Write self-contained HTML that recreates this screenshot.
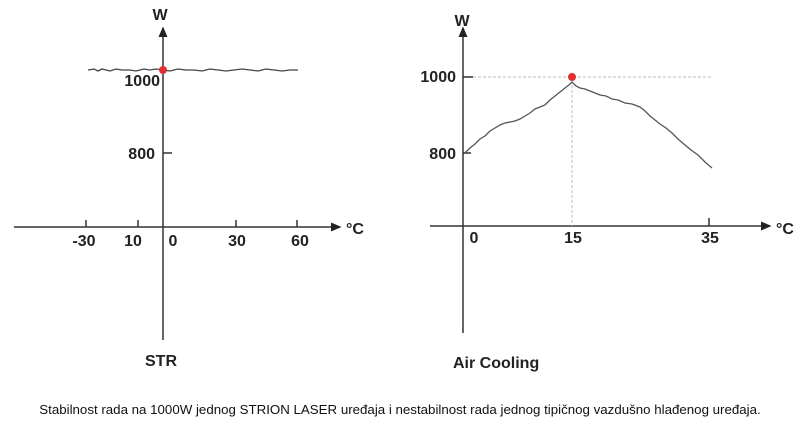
<!DOCTYPE html>
<html><head><style>
body{margin:0;width:800px;height:425px;background:#fff;overflow:hidden;font-family:"Liberation Sans",sans-serif}
</style></head><body>
<svg width="800" height="425" xmlns="http://www.w3.org/2000/svg" font-family="Liberation Sans, sans-serif">
<defs><marker id="a" markerWidth="8" markerHeight="8" refX="6" refY="3" orient="auto"><path d="M0,0 L7,3 L0,6z" fill="#222"/></marker></defs>
<g stroke="#333" stroke-width="1.5" fill="none">
<line x1="163" y1="340" x2="163" y2="28" marker-end="url(#a)"/>
<line x1="14" y1="227" x2="340" y2="227" marker-end="url(#a)"/>
<line x1="86" y1="220" x2="86" y2="227"/><line x1="138" y1="220" x2="138" y2="227"/>
<line x1="236" y1="220" x2="236" y2="227"/><line x1="297" y1="220" x2="297" y2="227"/>
<line x1="163" y1="153" x2="172" y2="153"/>
<line x1="463" y1="333" x2="463" y2="28" marker-end="url(#a)"/>
<line x1="430" y1="226" x2="770" y2="226" marker-end="url(#a)"/>
<line x1="709" y1="218" x2="709" y2="226"/>
<line x1="463" y1="77" x2="473" y2="77"/><line x1="463" y1="153" x2="471" y2="153"/>
</g>
<g stroke="#bbb" stroke-width="1" stroke-dasharray="3,2">
<line x1="473" y1="77" x2="712" y2="77"/><line x1="572" y1="80" x2="572" y2="226"/>
</g>
<polyline fill="none" stroke="#444" stroke-width="1.3" points="88,70 94,69 98,71 102,69 106,70 110,71 116,69 122,70 130,70 136,71 144,69 150,70 156,69 163,70 170,71 178,69 186,70 194,70 202,71 210,69 218,70 226,71 234,70 242,69 250,70 258,71 266,69 274,70 282,71 290,70 298,70"/>
<polyline fill="none" stroke="#555" stroke-width="1.3" points="465,153 470,148 475,144 480,139 485,136 490,131 495,128 500,125 505,123 510,122 515,121 520,119 525,116 530,113 535,109 540,107 545,105 550,100 555,96 560,92 565,88 570,84 572,82 576,86 580,88 585,89 590,91 595,93 600,95 606,96 612,99 618,100 625,103 632,104 640,107 645,111 650,116 655,120 660,124 666,128 672,133 678,139 685,145 691,150 698,155 705,162 712,168"/>
<circle cx="163" cy="70" r="4" fill="#e03030"/>
<circle cx="572" cy="77" r="4" fill="#e03030"/>
<g font-size="16" font-weight="bold" fill="#222">
<text x="160" y="20" text-anchor="middle">W</text>
<text x="462" y="26" text-anchor="middle">W</text>
<text x="160" y="86" text-anchor="end">1000</text>
<text x="155" y="159" text-anchor="end">800</text>
<text x="456" y="82" text-anchor="end">1000</text>
<text x="456" y="159" text-anchor="end">800</text>
<text x="84" y="246" text-anchor="middle">-30</text>
<text x="133" y="246" text-anchor="middle">10</text>
<text x="173" y="246" text-anchor="middle">0</text>
<text x="237" y="246" text-anchor="middle">30</text>
<text x="300" y="246" text-anchor="middle">60</text>
<text x="474" y="243" text-anchor="middle">0</text>
<text x="573" y="243" text-anchor="middle">15</text>
<text x="710" y="243" text-anchor="middle">35</text>
<text x="346" y="234">°C</text>
<text x="776" y="234">°C</text>
<text x="145" y="366">STR</text>
<text x="453" y="368">Air Cooling</text>
</g>
<text x="400" y="414" text-anchor="middle" font-size="13.3" fill="#111">Stabilnost rada na 1000W jednog STRION LASER uređaja i nestabilnost rada jednog tipičnog vazdušno hlađenog uređaja.</text>
</svg>
</body></html>
